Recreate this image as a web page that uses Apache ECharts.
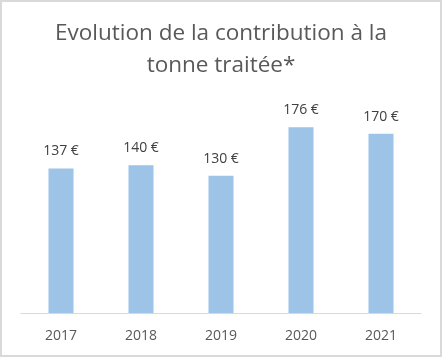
<!DOCTYPE html>
<html><head><meta charset="utf-8">
<script src="https://cdn.jsdelivr.net/npm/echarts@6/dist/echarts.min.js"></script>
<style>html,body{margin:0;padding:0;background:#fff}#c{width:442px;height:357px}</style>
</head><body><div id="c"></div>
<script>
const categories = ['2017', '2018', '2019', '2020', '2021'];
const values = [137, 140, 130, 176, 170];
const titleText = 'Evolution de la contribution à la\ntonne traitée*';

const chart = echarts.init(document.getElementById('c'), null, {renderer: 'canvas'});
chart.setOption({
  animation: false,
  backgroundColor: '#fff',
  title: {
    text: titleText,
    left: 'center',
    top: 13,
    textStyle: {fontFamily: 'Open Sans', fontSize: 22.5, fontWeight: 'normal', color: '#595959', lineHeight: 32}
  },
  graphic: [{
    type: 'rect', shape: {x: 1, y: 1, width: 440, height: 355},
    style: {fill: 'none', stroke: '#d9d9d9', lineWidth: 2}, silent: true
  }],
  grid: {left: 21, right: 21, top: 102, bottom: 44},
  xAxis: {
    type: 'category', data: categories,
    axisLine: {lineStyle: {color: '#d9d9d9', width: 1}},
    axisTick: {show: false},
    axisLabel: {fontFamily: 'Open Sans', fontSize: 14, color: '#595959', margin: 16}
  },
  yAxis: {
    type: 'value', min: 0, max: 200, show: false,
    splitLine: {show: false}
  },
  series: [{
    type: 'bar', data: values, barWidth: 25,
    itemStyle: {color: '#9dc3e6'},
    label: {show: true, position: 'top', distance: 10, formatter: p => p.value + ' €',
      fontFamily: 'Open Sans', fontSize: 14, color: '#404040'}
  }]
});
</script></body></html>
